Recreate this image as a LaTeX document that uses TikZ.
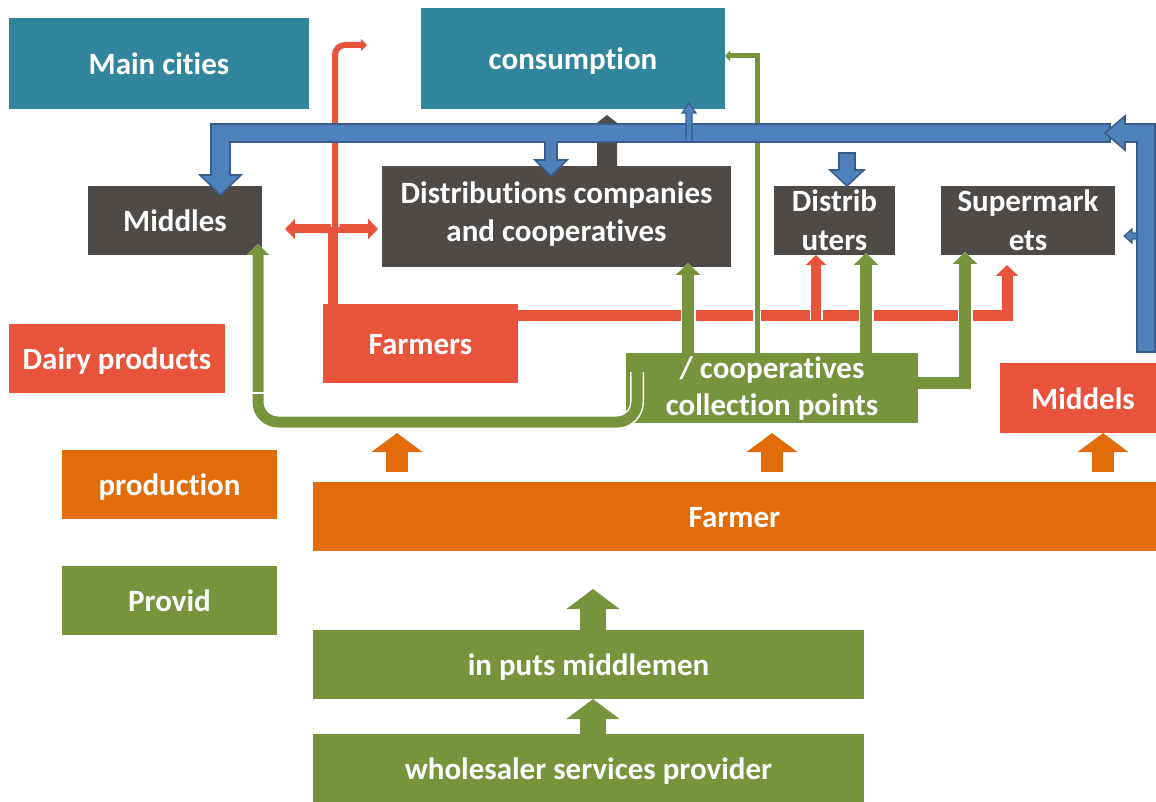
\documentclass[tikz,border=0pt]{standalone}
\usepackage{fontspec}
\setmainfont{Carlito}[Ligatures=NoCommon]
\usetikzlibrary{arrows.meta}

\definecolor{cTeal}{HTML}{31859C}
\definecolor{cGray}{HTML}{4E4A47}
\definecolor{cRed}{HTML}{E8533C}
\definecolor{cOrange}{HTML}{E36C0A}
\definecolor{cGreen}{HTML}{77933C}
\definecolor{cBlue}{HTML}{4F81BD}
\definecolor{cBlueDk}{HTML}{385D8A}

% box caption: first baseline placed #1 above the box centre
\newcommand\boxtext[2]{\raisebox{#1}[0pt][0pt]{\begin{tabular}[t]{@{}c@{}}#2\end{tabular}}}

\begin{document}
\begin{tikzpicture}[x=1pt,y=-1pt,
  box/.style={inner sep=0pt, outer sep=0pt, text=white,
    font=\fontsize{31}{38.4}\selectfont\bfseries},
  % thin connector with a white rim and a proportional head
  flow/.style 2 args={draw=#1, line width=#2, line join=miter,
    -{Triangle[width=0pt 2,length=0pt 1]},
    preaction={draw=white, line width=#2+3pt, -{Triangle[width=0pt 2,length=0pt 1]}}},
  plainflow/.style 2 args={draw=#1, line width=#2},
  oarrow/.style={draw=cOrange, line width=22pt,
    -{Triangle[width=50pt,length=19pt]}, shorten <=10pt},
  garrow/.style={draw=cGreen, line width=26pt,
    -{Triangle[width=52pt,length=20pt]}},
  bfill/.style={fill=cBlue},
  bedge/.style={draw=cBlueDk, line width=1.6pt, line join=miter},
]
\useasboundingbox (0,0) rectangle (1156,802);

% ---- boxes ----
\node[box, fill=cTeal, minimum width=300pt, minimum height=91pt] (cities) at (159,63.5) {\boxtext{-11.2pt}{Main cities}};
\node[box, fill=cTeal, minimum width=304pt, minimum height=101pt] (consumption) at (573,58.5) {\boxtext{-11.2pt}{consumption}};
\node[box, fill=cGray, minimum width=174pt, minimum height=69pt] (middles) at (175,220.5) {\boxtext{-11.2pt}{Middles}};
\node[box, fill=cGray, minimum width=349pt, minimum height=101pt] (dist) at (556.5,216.5) {\boxtext{13.2pt}{Distributions companies\\and cooperatives}};
\node[box, fill=cGray, minimum width=121pt, minimum height=69pt] (distr) at (834.5,220.5) {\boxtext{8.8pt}{Distrib\\uters}};
\node[box, fill=cGray, minimum width=174pt, minimum height=69pt] (super) at (1028,220.5) {\boxtext{8.8pt}{Supermark\\ets}};
\node[box, fill=cRed, minimum width=216pt, minimum height=69pt] (dairy) at (117,358.5) {\boxtext{-11.2pt}{Dairy products}};
\node[box, fill=cRed, minimum width=195pt, minimum height=79pt] (farmers) at (420.5,343.5) {\boxtext{-11.2pt}{Farmers}};
\node[box, fill=cGreen, minimum width=292pt, minimum height=70pt] (coop) at (772,388) {\boxtext{9.7pt}{/ cooperatives\\[-1.7pt]collection points}};
\node[box, fill=cRed, minimum width=156pt, minimum height=70pt] (middels) at (1078,398) {\boxtext{-11.2pt}{\hspace*{10pt}Middels}};
\node[box, fill=cOrange, minimum width=215pt, minimum height=69pt] (production) at (169.5,484.5) {\boxtext{-11.2pt}{production}};
\node[box, fill=cOrange, minimum width=843pt, minimum height=69pt] (farmer) at (734.5,516.5) {\boxtext{-11.2pt}{Farmer}};
\node[box, fill=cGreen, minimum width=215pt, minimum height=69pt] (provid) at (169.5,600.5) {\boxtext{-11.2pt}{Provid}};
\node[box, fill=cGreen, minimum width=551pt, minimum height=69pt] (inputs) at (588.5,664.5) {\boxtext{-11.2pt}{in puts middlemen}};
\node[box, fill=cGreen, minimum width=551pt, minimum height=68pt] (wholesale) at (588.5,768) {\boxtext{-11.2pt}{wholesaler services provider}};

% ---- red links from the farmers ----
\coordinate (rj) at (333,229);
\draw[plainflow={cRed}{9pt}, {Triangle[width=0pt 2.2,length=0pt 1.1]}-{Triangle[width=0pt 2.2,length=0pt 1.1]},
  shorten <=23pt, shorten >=4pt] (middles.east |- rj) -- (dist.west |- rj);
\draw[plainflow={cRed}{10pt}] (farmers.north -| rj) -- ([yshift=-4pt]rj);
\coordinate (redtop) at (367,45);
\draw[flow={cRed}{6pt}, rounded corners=10pt] (335,227) -- (335,45) -- (redtop);
\draw[flow={cRed}{11pt}, shorten >=10pt] (farmers.east |- 0,315) -- (1007,315) -- (super.south -| 1007,0);
\draw[flow={cRed}{10pt}] (816,320) -- (distr.south -| 816,0);

% ---- green links from the collection points ----
\draw[flow={cGreen}{12pt}, shorten >=-4pt] (coop.north -| 688,0) -- (dist.south -| 688,0);
\draw[flow={cGreen}{5pt}] (coop.north -| 757,0) -- (757,56) -- (consumption.east |- 0,56);
\draw[flow={cGreen}{12pt}, shorten >=-2pt] (coop.north -| 866,0) -- (distr.south -| 866,0);
\draw[flow={cGreen}{12pt}, shorten >=-3pt] (coop.east |- 0,383) -- (965,383) -- (super.south -| 965,0);
\draw[flow={cGreen}{11pt}, rounded corners=20pt, shorten >=-11pt] (637,372) -- (637,422) -- (258,422) -- (middles.south -| 258,0);
\draw[white, line width=1.5pt] (251,393) -- (265,393);

% ---- grey arrow from the distribution companies to consumption ----
\fill[cGray] (597,166) -- (597,126) -- (593,126) -- (607,115) -- (621,126) -- (617,126) -- (617,166) -- cycle;

% ---- blue return flows ----
\path[bfill, bedge] (1110,124) -- (211,124) -- (211,175) -- (200,175) -- (220.5,195) -- (241,175)
  -- (230,175) -- (230,142) -- (1110,142) -- cycle;
\path[bfill, bedge] (1137,352) -- (1137,142) -- (1125,142) -- (1125,150) -- (1105,133) -- (1125,116)
  -- (1125,124) -- (1155,124) -- (1155,352) -- cycle;
\fill[cBlue] (545,141) -- (545,160) -- (535,160) -- (551,176) -- (567,160) -- (557,160) -- (557,141) -- cycle;
\draw[bedge] (545,142) -- (545,160) -- (535,160) -- (551,176) -- (567,160) -- (557,160) -- (557,142);
\path[bfill, bedge] (839,153) -- (839,170) -- (830,170) -- (847,186) -- (864,170) -- (855,170) -- (855,153) -- cycle;
\path[bfill, bedge, line width=1.2pt] (686,142) -- (686,113) -- (682,113) -- (689,103) -- (696,113)
  -- (692,113) -- (692,142) -- cycle;
\path[bfill, bedge, line width=1.2pt] (1137,233) -- (1132,233) -- (1132,229) -- (1124,236) -- (1132,243)
  -- (1132,239) -- (1137,239) -- cycle;

% ---- production arrows ----
\draw[oarrow] (farmer.north -| 397,0) -- (397,433);
\draw[oarrow, shorten >=10pt] (farmer.north -| 772,0) -- (coop.south -| 772,0);
\draw[oarrow] (farmer.north -| 1103,0) -- (middels.south -| 1103,0);

% ---- input supply arrows ----
\draw[garrow] (inputs.north -| 593,0) -- ++(0,-41);
\draw[garrow] (wholesale.north -| 593,0) -- (inputs.south -| 593,0);
\end{tikzpicture}
\end{document}
